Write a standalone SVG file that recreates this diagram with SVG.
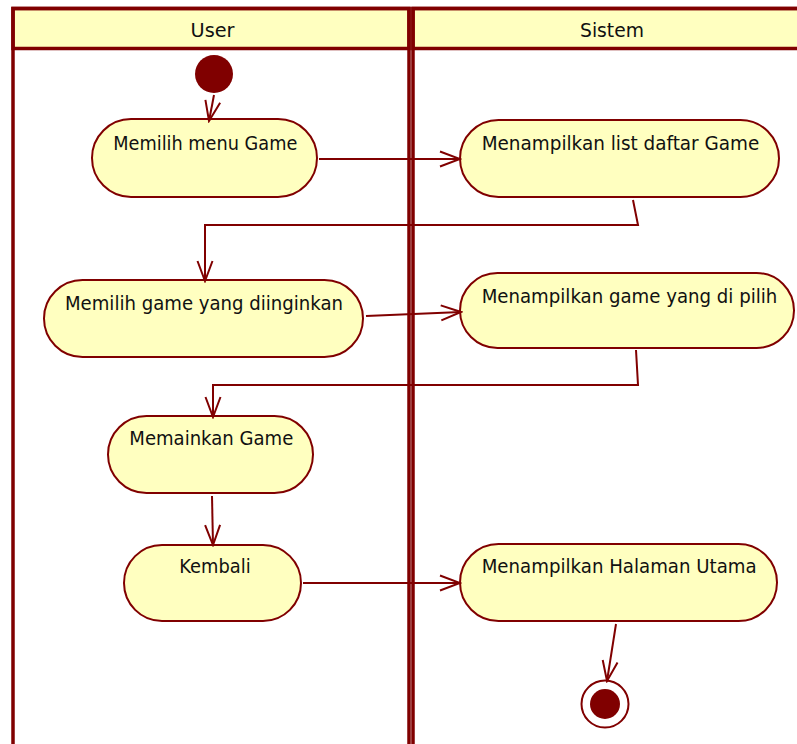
<svg xmlns="http://www.w3.org/2000/svg" width="797" height="744" viewBox="0 0 797 744">
  <style>
    .lane { fill: none; stroke: #800000; stroke-width: 3.5; }
    .head { fill: #FFFFC0; stroke: #800000; stroke-width: 3.5; }
    .act { fill: #FFFFC0; stroke: #800000; stroke-width: 2; }
    .lbl { font-family: "DejaVu Sans", Verdana, sans-serif; font-size: 20px; fill: #111; }
    .hdr { font-family: "DejaVu Sans", Verdana, sans-serif; font-size: 20px; fill: #111; text-anchor: middle; }
    .flow { fill: none; stroke: #800000; stroke-width: 2; marker-end: url(#open); }
  </style>
  <defs>
    <marker id="open" markerUnits="userSpaceOnUse" markerWidth="24" markerHeight="20" viewBox="-2 -2 24 20" refX="20" refY="7.5" orient="auto">
      <path d="M0,0 L20,7.5 L0,15" fill="none" stroke="#800000" stroke-width="2"/>
    </marker>
  </defs>
  <rect width="797" height="744" fill="#fff"/>

  <!-- swimlanes -->
  <g id="lane-user">
    <rect class="head" x="13" y="8.5" width="396" height="40"/>
    <rect class="lane" x="13" y="8.5" width="396" height="760"/>
    <text class="hdr" x="212.5" y="37" textLength="44" lengthAdjust="spacingAndGlyphs">User</text>
  </g>
  <g id="lane-sistem">
    <rect class="head" x="413" y="8.5" width="400" height="40"/>
    <rect class="lane" x="413" y="8.5" width="400" height="760"/>
    <text class="hdr" x="612" y="37" textLength="64" lengthAdjust="spacingAndGlyphs">Sistem</text>
  </g>

  <!-- start / end -->
  <g id="start">
    <circle cx="214" cy="74" r="19" fill="#800000"/>
  </g>
  <g id="end">
    <circle cx="605" cy="704" r="23.5" fill="#fff" stroke="#800000" stroke-width="2"/>
    <circle cx="605" cy="704" r="15" fill="#800000"/>
  </g>

  <!-- activities -->
  <g id="memilih-menu-game">
    <rect class="act" x="92" y="119" width="225" height="78" rx="39"/>
    <text class="lbl" x="113.3" y="150" textLength="184" lengthAdjust="spacingAndGlyphs">Memilih menu Game</text>
  </g>
  <g id="memilih-game">
    <rect class="act" x="44" y="280" width="319" height="77" rx="38.5"/>
    <text class="lbl" x="65" y="310" textLength="278" lengthAdjust="spacingAndGlyphs">Memilih game yang diinginkan</text>
  </g>
  <g id="memainkan-game">
    <rect class="act" x="108" y="416" width="205" height="77" rx="38.5"/>
    <text class="lbl" x="129.3" y="445" textLength="164" lengthAdjust="spacingAndGlyphs">Memainkan Game</text>
  </g>
  <g id="kembali">
    <rect class="act" x="124" y="545" width="177" height="76" rx="38"/>
    <text class="lbl" x="179.3" y="573" textLength="71.3" lengthAdjust="spacingAndGlyphs">Kembali</text>
  </g>
  <g id="tampil-list">
    <rect class="act" x="460" y="120" width="319" height="77" rx="38.5"/>
    <text class="lbl" x="481.7" y="150" textLength="277.6" lengthAdjust="spacingAndGlyphs">Menampilkan list daftar Game</text>
  </g>
  <g id="tampil-game">
    <rect class="act" x="460" y="273" width="334" height="75" rx="37.5"/>
    <text class="lbl" x="481.7" y="303" textLength="295.6" lengthAdjust="spacingAndGlyphs">Menampilkan game yang di pilih</text>
  </g>
  <g id="tampil-utama">
    <rect class="act" x="460" y="544" width="317" height="77" rx="38.5"/>
    <text class="lbl" x="481.7" y="573" textLength="275" lengthAdjust="spacingAndGlyphs">Menampilkan Halaman Utama</text>
  </g>

  <!-- control flows -->
  <g id="connectors">
    <path class="flow" d="M214,95 L209,121"/>
    <path class="flow" d="M319,159 L460,159"/>
    <path class="flow" d="M633,200 L638,225 L205,225 L205,281"/>
    <path class="flow" d="M366,316 L461,312"/>
    <path class="flow" d="M636,350 L638,385 L213,385 L213,417"/>
    <path class="flow" d="M212,496 L213,545"/>
    <path class="flow" d="M303,583 L460,583"/>
    <path class="flow" d="M616,624 L607,681"/>
  </g>
</svg>
